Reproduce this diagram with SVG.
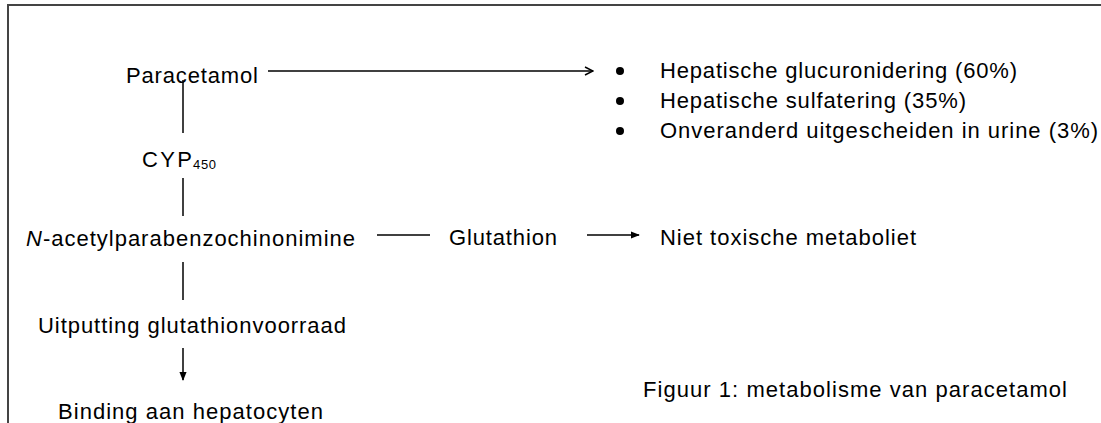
<svg xmlns="http://www.w3.org/2000/svg" width="1101" height="423" viewBox="0 0 1101 423">
  <style>
    text { font-family: "Liberation Sans", Arial, sans-serif; font-size: 22px; fill: #000; }
    .sub { font-size: 13px; }
    .ln { stroke: #000; stroke-width: 1.5; fill: none; }
    .frame { stroke: #444; stroke-width: 2; fill: none; }
  </style>
  <defs>
    <marker id="open" viewBox="0 0 10 10" refX="9" refY="5" markerWidth="10" markerHeight="10" markerUnits="userSpaceOnUse" orient="auto">
      <path d="M1,1 L9,5 L1,9" fill="none" stroke="#000" stroke-width="1.5"/>
    </marker>
    <marker id="solid" viewBox="0 0 10 10" refX="9" refY="5" markerWidth="9" markerHeight="9" markerUnits="userSpaceOnUse" orient="auto">
      <path d="M0,1 L10,5 L0,9 Z" fill="#000"/>
    </marker>
  </defs>
  <rect width="1101" height="423" fill="#fff"/>
  <path class="frame" d="M8,423 V5 H1101"/>

  <g id="connectors">
    <line class="ln" x1="268" y1="71" x2="593" y2="71" marker-end="url(#open)"/>
    <line class="ln" x1="183" y1="80" x2="183" y2="133"/>
    <line class="ln" x1="183" y1="178" x2="183" y2="216"/>
    <line class="ln" x1="183" y1="262" x2="183" y2="300"/>
    <line class="ln" x1="183" y1="348" x2="183" y2="380" marker-end="url(#solid)"/>
    <line class="ln" x1="377" y1="235" x2="430" y2="235"/>
    <line class="ln" x1="587" y1="235" x2="639" y2="235" marker-end="url(#solid)"/>
  </g>

  <g id="paracetamol"><text x="126" y="83" textLength="132" lengthAdjust="spacing">Paracetamol</text></g>
  <g id="cyp450"><text x="142" y="167" textLength="50" lengthAdjust="spacing">CYP</text><text class="sub" x="193" y="169" textLength="23" lengthAdjust="spacing">450</text></g>
  <g id="napqi"><text x="26" y="246" textLength="329" lengthAdjust="spacing"><tspan font-style="italic">N</tspan>-acetylparabenzochinonimine</text></g>
  <g id="uitputting"><text x="38" y="333" textLength="308" lengthAdjust="spacing">Uitputting glutathionvoorraad</text></g>
  <g id="binding"><text x="58" y="419" textLength="265" lengthAdjust="spacing">Binding aan hepatocyten</text></g>
  <g id="glutathion"><text x="449" y="245" textLength="108" lengthAdjust="spacing">Glutathion</text></g>
  <g id="niet-toxisch"><text x="660" y="245" textLength="256" lengthAdjust="spacing">Niet toxische metaboliet</text></g>
  <g id="routes">
    <circle cx="620" cy="71" r="4"/>
    <circle cx="620" cy="101" r="4"/>
    <circle cx="620" cy="131" r="4"/>
    <text x="660" y="78" textLength="357" lengthAdjust="spacing">Hepatische glucuronidering (60%)</text>
    <text x="660" y="108" textLength="306" lengthAdjust="spacing">Hepatische sulfatering (35%)</text>
    <text x="660" y="138" textLength="438" lengthAdjust="spacing">Onveranderd uitgescheiden in urine (3%)</text>
  </g>
  <g id="caption"><text x="643" y="397" textLength="424" lengthAdjust="spacing">Figuur 1: metabolisme van paracetamol</text></g>
</svg>
